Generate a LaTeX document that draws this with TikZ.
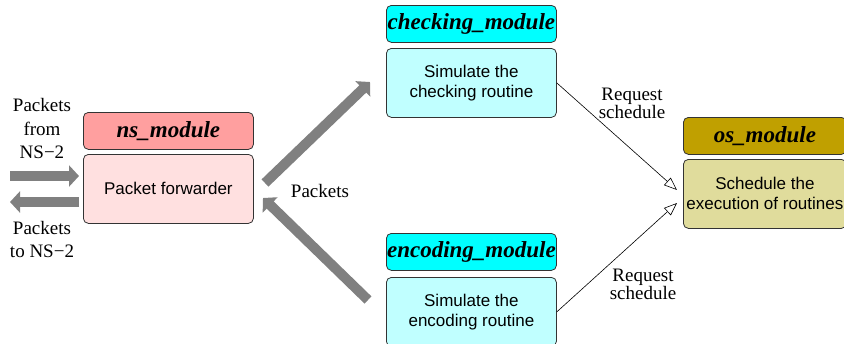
\documentclass[tikz,border=0pt]{standalone}
\usepackage{fontspec}
\setmainfont{Liberation Serif}
\newfontfamily\bodyfont{Liberation Sans}
\usetikzlibrary{arrows.meta}
\definecolor{nshead}{HTML}{FF9F9F}
\definecolor{nsbody}{HTML}{FFE0E0}
\definecolor{cyhead}{HTML}{00FFFF}
\definecolor{cybody}{HTML}{C0FFFF}
\definecolor{oshead}{HTML}{C0A000}
\definecolor{osbody}{HTML}{E0DC9C}
\begin{document}
\begin{tikzpicture}[x=1pt,y=-1pt,
  hdr/.style={draw=black!80, line width=0.8pt, rounded corners=5pt, minimum width=170pt, minimum height=37pt, inner sep=0pt, anchor=north west, font=\fontsize{23}{25}\selectfont\bfseries\itshape},
  bodybox/.style={draw=black!80, line width=0.8pt, rounded corners=5pt, minimum width=170pt, minimum height=69pt, inner sep=0pt, anchor=north west, align=center, font=\bodyfont\fontsize{17}{20}\selectfont},
  lbl/.style={align=center, inner sep=0pt, font=\fontsize{19}{23.5}\selectfont},
  reqlbl/.style={align=center, inner sep=0pt, font=\fontsize{19}{16}\selectfont},
  bigarrow/.style={draw=gray, line width=10pt, -{Triangle[width=21pt,length=10pt]}},
  reqarrow/.style={draw=black, line width=0.6pt, -{Triangle[open,width=10pt,length=13pt,fill=white]}}]
\useasboundingbox (0,0) rectangle (844,343);

% boxes
\node[hdr, fill=nshead] (nshdr) at (83,112) {ns\_module};
\node[bodybox, fill=nsbody] (nsbox) at (83,154) {Packet forwarder};
\node[hdr, fill=cyhead] (chkhdr) at (386,5) {checking\_module};
\node[bodybox, fill=cybody] (chkbox) at (386,48) {Simulate the\\checking routine};
\node[hdr, fill=cyhead] (enchdr) at (386,233) {encoding\_module};
\node[bodybox, fill=cybody] (encbox) at (386,277) {Simulate the\\encoding routine};
\node[hdr, fill=oshead, minimum width=163pt] (oshdr) at (683,117) {os\_module};
\node[bodybox, fill=osbody, minimum width=163pt] (osbox) at (683,159) {Schedule the\\execution of routines};

% labels
\node[lbl] (lfrom) at (42,128.5) {Packets\\from\\NS−2};
\node[lbl] (lto) at (42,239.5) {Packets\\to NS−2};
\node[lbl] (lpk) at (320,191) {Packets};
\node[reqlbl] (lreq1) at (632,103) {Request\\schedule};
\node[reqlbl] (lreq2) at (643,284) {Request\\schedule};

% arrow end points
\coordinate (inA) at (10,176);
\coordinate (inB) at (79,176);
\coordinate (outA) at (79,202);
\coordinate (outB) at (10,202);
\coordinate (upA) at (265,183);
\coordinate (upB) at (370,82);
\coordinate (dnA) at (368,300);
\coordinate (dnB) at (263,198);
\coordinate (os1) at (677,190);
\coordinate (os2) at (677,203);

\draw[bigarrow] (inA) -- (inB);
\draw[bigarrow] (outA) -- (outB);
\draw[bigarrow] (upA) -- (upB);
\draw[bigarrow] (dnA) -- (dnB);
\draw[reqarrow] (chkbox.east) -- (os1);
\draw[reqarrow] (encbox.east) -- (os2);
\end{tikzpicture}
\end{document}
